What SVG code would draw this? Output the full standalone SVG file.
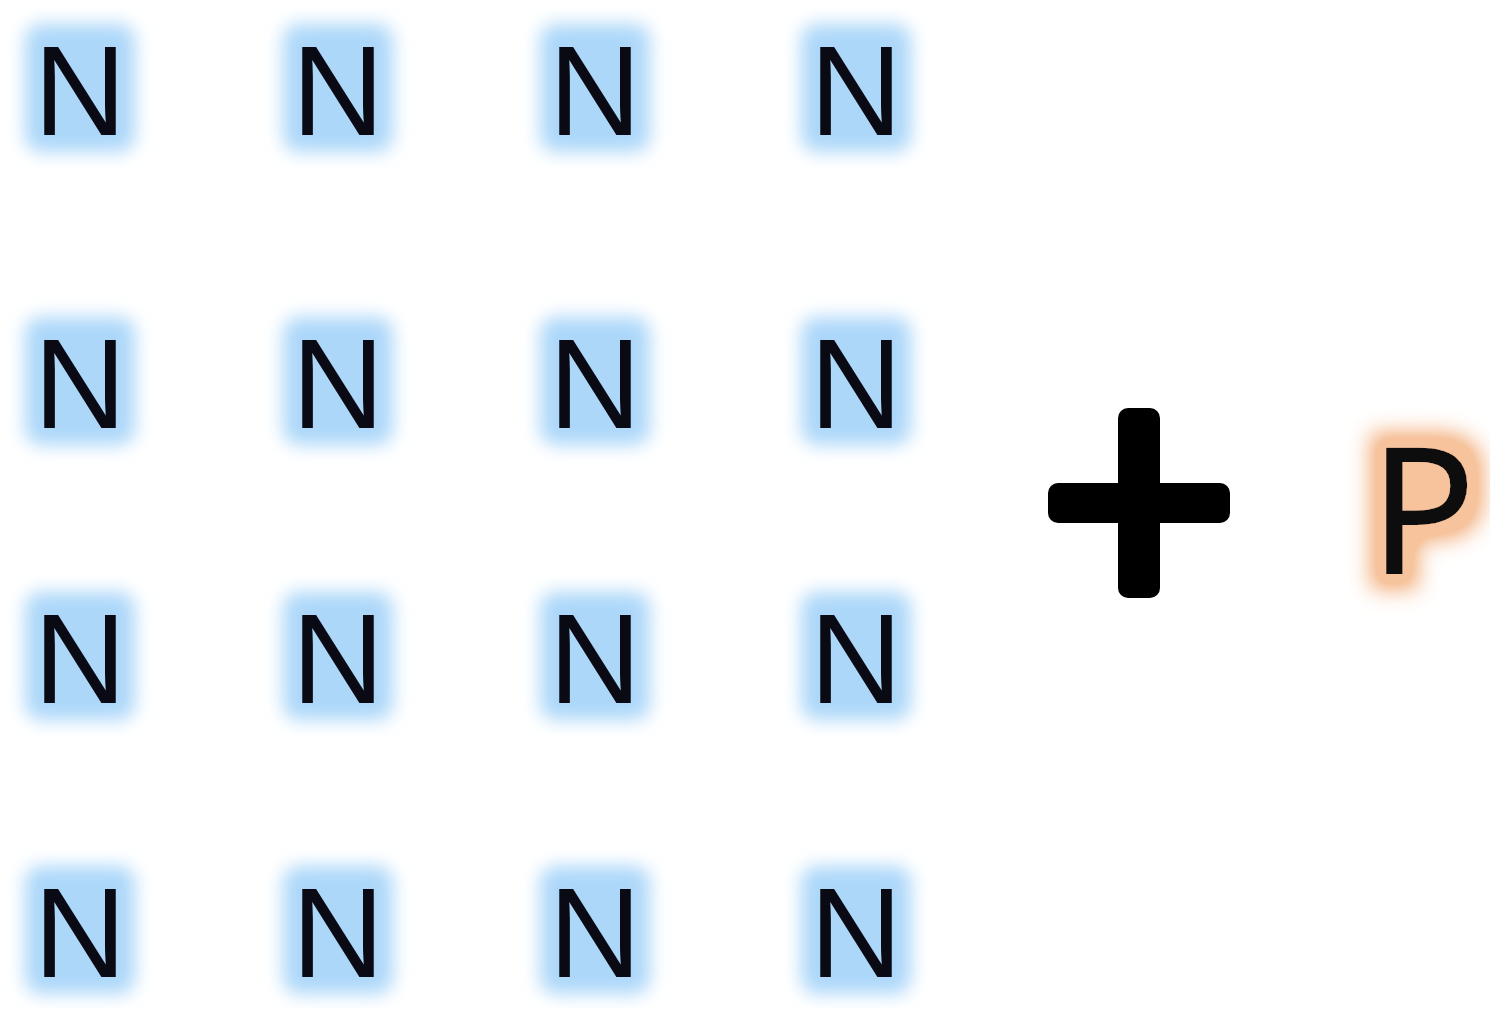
<svg xmlns="http://www.w3.org/2000/svg" width="1490" height="1009" viewBox="0 0 1490 1009">
  <defs>
    <filter id="soft" x="-40%" y="-40%" width="180%" height="180%">
      <feGaussianBlur stdDeviation="9"/>
    </filter>
    <filter id="glowOrange" x="-80%" y="-80%" width="260%" height="260%">
      <feMorphology in="SourceAlpha" operator="dilate" radius="15" result="d"/>
      <feGaussianBlur in="d" stdDeviation="11" result="b"/>
      <feComponentTransfer in="b" result="b2">
        <feFuncA type="linear" slope="1.5" intercept="0"/>
      </feComponentTransfer>
      <feFlood flood-color="#f6c39d"/>
      <feComposite in2="b2" operator="in" result="g"/>
      <feMerge>
        <feMergeNode in="g"/>
        <feMergeNode in="SourceGraphic"/>
      </feMerge>
    </filter>
  </defs>
  <style>
    .glow { fill: #acd7f9; filter: url(#soft); }
    .n { font-family: "Liberation Sans", Arial, sans-serif; font-size: 128px; fill: #0a0a14; text-anchor: middle; }
    .p { font-family: "Open Sans", "Noto Sans", sans-serif; font-size: 175px; fill: #100808; stroke: #100808; stroke-width: 2; filter: url(#glowOrange); }
    .bar { fill: #000000; }
  </style>
  <rect width="1490" height="1009" fill="#ffffff"/>

  <g id="n-r1c1"><rect class="glow" x="25" y="24" width="110" height="128" rx="16"/><text class="n" x="80" y="135">N</text></g>
  <g id="n-r1c2"><rect class="glow" x="283" y="24" width="110" height="128" rx="16"/><text class="n" x="338" y="135">N</text></g>
  <g id="n-r1c3"><rect class="glow" x="540" y="24" width="110" height="128" rx="16"/><text class="n" x="595" y="135">N</text></g>
  <g id="n-r1c4"><rect class="glow" x="801" y="24" width="110" height="128" rx="16"/><text class="n" x="856" y="135">N</text></g>

  <g id="n-r2c1"><rect class="glow" x="25" y="317" width="110" height="128" rx="16"/><text class="n" x="80" y="428">N</text></g>
  <g id="n-r2c2"><rect class="glow" x="283" y="317" width="110" height="128" rx="16"/><text class="n" x="338" y="428">N</text></g>
  <g id="n-r2c3"><rect class="glow" x="540" y="317" width="110" height="128" rx="16"/><text class="n" x="595" y="428">N</text></g>
  <g id="n-r2c4"><rect class="glow" x="801" y="317" width="110" height="128" rx="16"/><text class="n" x="856" y="428">N</text></g>

  <g id="n-r3c1"><rect class="glow" x="25" y="592" width="110" height="128" rx="16"/><text class="n" x="80" y="703">N</text></g>
  <g id="n-r3c2"><rect class="glow" x="283" y="592" width="110" height="128" rx="16"/><text class="n" x="338" y="703">N</text></g>
  <g id="n-r3c3"><rect class="glow" x="540" y="592" width="110" height="128" rx="16"/><text class="n" x="595" y="703">N</text></g>
  <g id="n-r3c4"><rect class="glow" x="801" y="592" width="110" height="128" rx="16"/><text class="n" x="856" y="703">N</text></g>

  <g id="n-r4c1"><rect class="glow" x="25" y="866" width="110" height="128" rx="16"/><text class="n" x="80" y="977">N</text></g>
  <g id="n-r4c2"><rect class="glow" x="283" y="866" width="110" height="128" rx="16"/><text class="n" x="338" y="977">N</text></g>
  <g id="n-r4c3"><rect class="glow" x="540" y="866" width="110" height="128" rx="16"/><text class="n" x="595" y="977">N</text></g>
  <g id="n-r4c4"><rect class="glow" x="801" y="866" width="110" height="128" rx="16"/><text class="n" x="856" y="977">N</text></g>

  <g id="plus">
    <rect class="bar" x="1118" y="408" width="42" height="190" rx="10"/>
    <rect class="bar" x="1048" y="483" width="182" height="40" rx="10"/>
  </g>

  <g id="p-node"><text class="p" x="1370" y="573">P</text></g>
</svg>
